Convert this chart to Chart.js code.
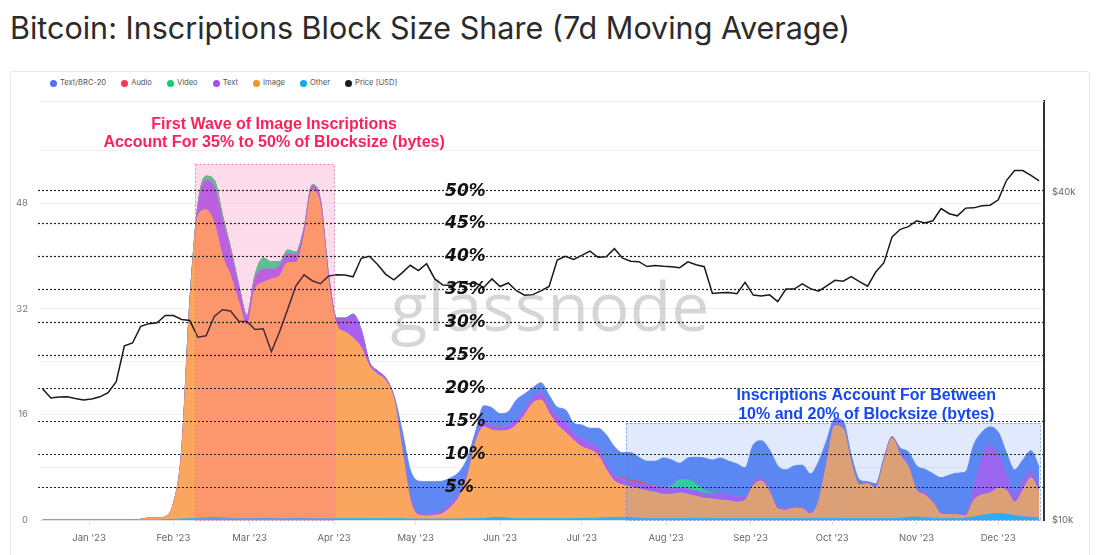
<!DOCTYPE html>
<html>
<head>
<meta charset="utf-8">
<script src="https://cdn.jsdelivr.net/npm/chart.js@4.4.1/dist/chart.umd.min.js"></script>
<style>
  html, body { margin: 0; padding: 0; background: #fff; }
  body { width: 1100px; height: 555px; position: relative; overflow: hidden; font-family: Inter, "Noto Sans", sans-serif; }
  #title { position: absolute; left: 10px; top: 11px; font-size: 30.5px; line-height: 34px; color: #2b2b2b; white-space: nowrap; }
  #card { position: absolute; left: 10px; top: 71px; width: 1078px; height: 520px; border: 1px solid #e8e8e8; border-radius: 3px; }
  #legend { position: absolute; left: 50px; top: 76px; display: flex; font-size: 7.6px; color: #555; line-height: 14px; }
  .item { display: flex; align-items: center; margin-right: 15px; }
  .dot { width: 7px; height: 7px; border-radius: 50%; margin-right: 3px; }
  #wrap { position: absolute; left: 0; top: 0; width: 1100px; height: 555px; }
</style>
</head>
<body>
<div id="title">Bitcoin: Inscriptions Block Size Share (7d Moving Average)</div>
<div id="card"></div>
<div id="legend"></div>
<div id="wrap"><canvas id="chart"></canvas></div>
<script>
// days since 1 Jan 2023, one point every 3 days
const days = [
  -17, -14, -11, -8, -5, -2, 1, 4, 7, 10, 13, 16,
  19, 22, 25, 28, 31, 34, 37, 40, 43, 46, 49, 52,
  55, 58, 61, 64, 67, 70, 73, 76, 79, 82, 85, 88,
  91, 94, 97, 100, 103, 106, 109, 112, 115, 118, 121, 124,
  127, 130, 133, 136, 139, 142, 145, 148, 151, 154, 157, 160,
  163, 166, 169, 172, 175, 178, 181, 184, 187, 190, 193, 196,
  199, 202, 205, 208, 211, 214, 217, 220, 223, 226, 229, 232,
  235, 238, 241, 244, 247, 250, 253, 256, 259, 262, 265, 268,
  271, 274, 277, 280, 283, 286, 289, 292, 295, 298, 301, 304,
  307, 310, 313, 316, 319, 322, 325, 328, 331, 334, 337, 340,
  343, 346, 349
];

const other = [
  0, 0, 0, 0, 0, 0, 0, 0, 0, 0, 0, 0,
  0, 0, 0, 0.05, 0.1, 0.15, 0.2, 0.25, 0.35, 0.4, 0.35, 0.25,
  0.2, 0.2, 0.2, 0.25, 0.25, 0.2, 0.2, 0.25, 0.25, 0.2, 0.2, 0.2,
  0.2, 0.2, 0.2, 0.2, 0.2, 0.2, 0.2, 0.2, 0.2, 0.15, 0.15, 0.15,
  0.15, 0.15, 0.15, 0.15, 0.2, 0.2, 0.25, 0.35, 0.4, 0.3, 0.2, 0.2,
  0.2, 0.2, 0.2, 0.2, 0.2, 0.2, 0.25, 0.25, 0.3, 0.35, 0.4, 0.4,
  0.35, 0.25, 0.2, 0.2, 0.2, 0.2, 0.2, 0.2, 0.25, 0.25, 0.2, 0.2,
  0.2, 0.2, 0.2, 0.2, 0.2, 0.2, 0.2, 0.2, 0.2, 0.2, 0.2, 0.2,
  0.25, 0.25, 0.2, 0.2, 0.2, 0.2, 0.2, 0.2, 0.2, 0.25, 0.4, 0.45,
  0.35, 0.25, 0.2, 0.2, 0.2, 0.3, 0.45, 0.7, 0.9, 1.0, 0.9, 0.7,
  0.5, 0.4, 0.3
];

const image = [
  0, 0, 0, 0, 0, 0, 0, 0, 0, 0, 0, 0,
  0.1, 0.3, 0.3, 0.45, 2.4, 9.85, 31.8, 45.75, 46.65, 44.6, 39.65, 36.75,
  32.8, 29.3, 34.8, 35.75, 36.25, 36.8, 38.8, 38.75, 42.75, 49.8, 47.3, 35.8,
  29.3, 28.3, 27.4, 25.9, 23.1, 21.9, 20.9, 18.0, 10.4, 2.85, 0.6, 0.45,
  0.55, 0.85, 1.85, 3.35, 6.3, 11.5, 13.85, 13.25, 13.1, 13.3, 14.2, 15.7,
  17.5, 18.0, 16.0, 14.2, 13.1, 11.9, 10.85, 10.35, 9.5, 7.25, 5.5, 4.9,
  4.65, 4.45, 4.2, 4.0, 3.7, 3.7, 3.9, 3.7, 3.35, 3.05, 3.0, 2.8,
  2.7, 2.5, 2.8, 5.0, 5.7, 4.0, 1.5, 1.3, 1.6, 1.5, 0.7, 2.6,
  8.35, 14.05, 13.6, 8.4, 5.1, 5.3, 4.6, 8.6, 12.2, 9.55, 7.6, 4.05,
  3.45, 2.35, 0.7, 0.6, 0.6, 0.3, 2.55, 3.1, 3.2, 3.8, 3.6, 2.0,
  4.0, 6.0, 3.9
];

const text = [
  0, 0, 0, 0, 0, 0, 0, 0, 0, 0, 0, 0,
  0, 0, 0, 0, 0, 0.3, 0.8, 1.2, 4.5, 5.5, 5.5, 3.7,
  2.3, 1.3, 1.6, 2.0, 1.5, 1.5, 1.4, 1.2, 1.0, 0.6, 0.8, 1.0,
  1.0, 2.0, 3.5, 2.6, 0.6, 0.5, 0.4, 0.3, 0.5, 0.5, 0.3, 0.2,
  0.3, 0.4, 0.5, 0.6, 0.6, 0.5, 0.6, 0.6, 0.6, 0.7, 0.8, 0.8,
  0.8, 1.0, 1.2, 1.2, 1.5, 1.0, 1.2, 1.0, 1.0, 0.8, 0.8, 0.8,
  0.8, 0.8, 0.9, 0.9, 1.0, 1.0, 0.8, 0.8, 0.8, 0.8, 0.8, 1.0,
  0.9, 0.8, 0.5, 0.5, 0.5, 0.4, 0.3, 0.3, 0.3, 0.3, 0.2, 0.3,
  0.4, 0.3, 0.3, 0.3, 0.3, 0.2, 0.3, 0.3, 0.2, 0.3, 0.3, 0.3,
  0.4, 0.3, 0.2, 0.2, 0.2, 0.2, 1.8, 5.6, 7.3, 5.0, 2.3, 1.2,
  1.4, 1.0, 0.8
];

const video = [
  0, 0, 0, 0, 0, 0, 0, 0, 0, 0, 0, 0,
  0, 0, 0, 0, 0, 0, 0, 0.5, 0.6, 1.0, 0.7, 0.5,
  0.3, 0.2, 0.5, 1.7, 1.1, 0.6, 0.5, 0.4, 0.2, 0.2, 0.2, 0.1,
  0.1, 0.1, 0.1, 0.1, 0, 0, 0, 0, 0, 0, 0, 0,
  0, 0, 0, 0, 0, 0, 0, 0, 0, 0, 0, 0,
  0, 0, 0, 0, 0, 0, 0, 0, 0, 0, 0, 0,
  0, 0, 0, 0, 0, 0.3, 1.2, 1.4, 1.0, 0.4, 0.1, 0,
  0, 0, 0, 0, 0, 0, 0, 0, 0, 0, 0, 0,
  0, 0, 0, 0, 0, 0, 0, 0, 0, 0, 0, 0,
  0, 0, 0, 0, 0, 0, 0, 0, 0, 0, 0, 0,
  0, 0, 0
];

const audio = [
  0, 0, 0, 0, 0, 0, 0, 0, 0, 0, 0, 0,
  0, 0, 0, 0, 0, 0, 0, 0, 0, 0, 0, 0,
  0, 0, 0, 0, 0, 0, 0, 0, 0, 0, 0, 0,
  0, 0, 0, 0, 0, 0, 0, 0, 0, 0, 0, 0,
  0, 0, 0, 0, 0, 0, 0, 0, 0, 0, 0, 0,
  0, 0, 0, 0, 0, 0, 0, 0, 0, 0, 0, 0.2,
  0.3, 0.3, 0.2, 0, 0, 0, 0, 0, 0, 0, 0, 0,
  0, 0, 0, 0, 0, 0, 0, 0, 0, 0, 0, 0,
  0, 0, 0, 0, 0, 0, 0, 0, 0, 0, 0, 0,
  0, 0, 0, 0, 0, 0, 0, 0, 0, 0, 0, 0,
  0, 0, 0
];

const brc20 = [
  0, 0, 0, 0, 0, 0, 0, 0, 0, 0, 0, 0,
  0, 0, 0, 0, 0, 0, 0, 0, 0, 0, 0, 0,
  0, 0, 0, 0, 0, 0, 0, 0, 0, 0, 0, 0,
  0, 0, 0, 0, 0, 0, 0, 0.4, 2.5, 4.1, 4.85, 5.0,
  4.8, 4.5, 3.9, 3.2, 2.3, 1.2, 2.6, 2.8, 2.0, 2.1, 3.0, 2.4,
  1.5, 1.6, 1.5, 1.5, 1.9, 1.6, 2.1, 2.3, 3.1, 4.5, 4.4, 3.9,
  4.1, 3.7, 3.4, 3.8, 4.5, 3.9, 2.5, 3.3, 4.1, 4.9, 5.0, 5.4,
  5.1, 5.0, 4.4, 5.7, 5.6, 6.0, 6.2, 5.8, 6.1, 6.3, 5.9, 5.7,
  3.1, 0.8, 0.9, 0.9, 0.5, 0.1, 0.4, 0.3, 0.0, 0.8, 2.0, 3.4,
  3.5, 4.1, 5.3, 5.8, 6.1, 6.5, 6.6, 3.9, 2.7, 3.5, 3.4, 3.7,
  3.2, 3.1, 3.0
];

const price = [
  17400, 16750, 16820, 16840, 16710, 16600, 16680, 16830, 17120, 17940, 20880, 21130,
  22670, 22930, 23010, 23740, 23730, 23330, 23240, 21650, 21780, 23640, 24320, 24190,
  23170, 23150, 22360, 22430, 20360, 22160, 24380, 26910, 28180, 27490, 27140, 28040,
  28190, 28170, 27950, 30220, 30480, 29430, 28240, 27590, 28420, 29340, 28680, 29530,
  27700, 26990, 26930, 27400, 27110, 27220, 26720, 27700, 26820, 27230, 26350, 25850,
  25920, 26330, 26840, 29990, 30480, 30080, 30590, 31150, 30350, 30410, 31470, 30240,
  29860, 29790, 29180, 29320, 29230, 29170, 29050, 29770, 29410, 29170, 26050, 26120,
  26160, 26010, 27300, 25870, 25780, 25900, 25160, 26530, 26530, 27130, 26580, 26300,
  26910, 27530, 27430, 27970, 27390, 26860, 28520, 29670, 33090, 34160, 34540, 35420,
  35070, 35420, 37300, 36490, 36160, 37360, 37400, 37720, 37820, 38690, 41980, 43780,
  43780, 42890, 41930
];

const monthDays = [0, 31, 59, 90, 120, 151, 181, 212, 243, 273, 304, 334];
const monthLabels = ["Jan '23", "Feb '23", "Mar '23", "Apr '23", "May '23", "Jun '23",
  "Jul '23", "Aug '23", "Sep '23", "Oct '23", "Nov '23", "Dec '23"];
const leftTicks = [0, 8, 16, 24, 32, 40, 48, 56];
const priceTicks = [10000, 40000];
const pctLevels = [5, 10, 15, 20, 25, 30, 35, 40, 45, 50];

// annotation ranges (x in days, y in share units)
const waveBox = { from: 39, to: 90, top: 53.9 };
const rangeBox = { from: 197.3, to: 349.4, top: 14.7 };
const waveNote = ['First Wave of Image Inscriptions', 'Account For 35% to 50% of Blocksize (bytes)'];
const rangeNote = ['Inscriptions Account For Between', '10% and 20% of Blocksize (bytes)'];

const legendNames = ['Text/BRC-20', 'Audio', 'Video', 'Text', 'Image', 'Other', 'Price [USD]'];
const legendColors = ['#4c74f5', '#f23a56', '#12cf66', '#a44ff0', '#f5902a', '#12aaf0', '#1a1a1a'];

//Legende als HTML
const legendEl = document.getElementById('legend');
legendNames.forEach((name, i) => {
  const item = document.createElement('div');
  item.className = 'item';
  item.innerHTML = `<span class="dot" style="background:${legendColors[i]}"></span>${name}`;
  legendEl.appendChild(item);
});

function series(values) {
  return days.map((d, i) => ({ x: d, y: values[i] }));
}

function area(label, values, color, fill) {
  return {
    label: label,
    data: series(values),
    yAxisID: 'y',
    backgroundColor: color,
    borderColor: color,
    borderWidth: 1,
    pointRadius: 0,
    fill: fill,
    tension: 0.4,
    cubicInterpolationMode: 'monotone'
  };
}

function drawBox(ctx, x1, y1, x2, y2, fill, stroke) {
  ctx.fillStyle = fill;
  ctx.fillRect(x1, y1, x2 - x1, y2 - y1);
  ctx.setLineDash([2, 2]);
  ctx.strokeStyle = stroke;
  ctx.lineWidth = 1;
  ctx.strokeRect(Math.round(x1) + 0.5, Math.round(y1) + 0.5, Math.round(x2 - x1), Math.round(y2 - y1));
  ctx.setLineDash([]);
}

const overlay = {
  id: 'overlay',
  beforeDatasetsDraw(chart) {
    const { ctx, chartArea: a } = chart;
    ctx.save();
    ctx.strokeStyle = '#ececec';
    ctx.lineWidth = 1;
    ctx.beginPath();
    ctx.moveTo(a.left, a.top + 0.5);
    ctx.lineTo(a.right, a.top + 0.5);
    ctx.stroke();
    // watermark
    ctx.font = '400 68px "Open Sans"';
    ctx.fillStyle = 'rgba(0,0,0,0.16)';
    ctx.textAlign = 'center';
    ctx.textBaseline = 'alphabetic';
    ctx.fillText('glassnode', 550, 331);
    ctx.restore();
  },
  afterDatasetsDraw(chart) {
    const { ctx, chartArea: a, scales: { x, y } } = chart;
    ctx.save();
    drawBox(ctx, x.getPixelForValue(waveBox.from), y.getPixelForValue(waveBox.top),
      x.getPixelForValue(waveBox.to), y.getPixelForValue(0),
      'rgba(250,95,165,0.22)', 'rgba(240,110,170,0.85)');
    drawBox(ctx, x.getPixelForValue(rangeBox.from), y.getPixelForValue(rangeBox.top),
      x.getPixelForValue(rangeBox.to), y.getPixelForValue(0),
      'rgba(70,130,240,0.17)', 'rgba(90,140,240,0.8)');

    // gepunktete Linien
    ctx.setLineDash([2, 2]);
    ctx.strokeStyle = '#222';
    ctx.lineWidth = 1.2;
    pctLevels.forEach(v => {
      const py = Math.round(y.getPixelForValue(v)) + 0.5;
      ctx.beginPath();
      ctx.moveTo(a.left - 2, py);
      ctx.lineTo(a.right, py);
      ctx.stroke();
    });
    ctx.setLineDash([]);

    ctx.font = 'italic bold 17px "DejaVu Sans"';
    ctx.fillStyle = '#111';
    ctx.textAlign = 'left';
    ctx.textBaseline = 'middle';
    pctLevels.forEach(v => {
      ctx.fillText(v + '%', x.getPixelForValue(130.8), y.getPixelForValue(v) + 1);
    });

    ctx.font = 'bold 16px "Liberation Sans"';
    ctx.textAlign = 'center';
    ctx.fillStyle = '#ff1f5a';
    ctx.fillText(waveNote[0], x.getPixelForValue(68), y.getPixelForValue(59.85));
    ctx.fillText(waveNote[1], x.getPixelForValue(68), y.getPixelForValue(57.15));
    ctx.fillStyle = '#1448f0';
    ctx.fillText(rangeNote[0], x.getPixelForValue(285.5), y.getPixelForValue(18.8));
    ctx.fillText(rangeNote[1], x.getPixelForValue(285.5), y.getPixelForValue(16.0));
    ctx.restore();
  }
};

Chart.defaults.font.family = 'Inter, "Noto Sans", sans-serif';

const ctx = document.getElementById('chart').getContext('2d');
const chart = new Chart(ctx, {
  type: 'line',
  data: {
    datasets: [
      area('Other', other, '#2ab4f2', 'origin'),
      area('Image', image, '#fba65e', '-1'),
      area('Text', text, '#ab5ff2', '-1'),
      area('Video', video, '#2edc8e', '-1'),
      area('Audio', audio, '#f5455f', '-1'),
      area('Text/BRC-20', brc20, '#5f88f5', '-1'),
      {
        label: 'Price [USD]',
        data: series(price),
        yAxisID: 'y1',
        borderColor: '#1a1a1a',
        borderWidth: 1.5,
        pointRadius: 0,
        fill: false,
        tension: 0,
        order: -1
      }
    ]
  },
  options: {
    responsive: true,
    maintainAspectRatio: false,
    animation: false,
    events: [],
    layout: { padding: { top: 101, left: 0, right: 0, bottom: 0 } },
    plugins: { legend: { display: false }, tooltip: { enabled: false } },
    scales: {
      x: {
        type: 'linear',
        min: -18,
        max: 350.8,
        afterBuildTicks: s => { s.ticks = monthDays.map(v => ({ value: v })); },
        afterFit: s => { s.height = 35; },
        grid: { drawOnChartArea: false, drawTicks: true, tickLength: 5, color: '#e3e3e3' },
        border: { display: true, color: '#e3e3e3' },
        ticks: {
          autoSkip: false,
          maxRotation: 0,
          padding: 7,
          color: '#666',
          font: { size: 9.5 },
          callback: (v, i) => monthLabels[i]
        }
      },
      y: {
        position: 'left',
        stacked: true,
        min: 0,
        max: 63.5,
        afterBuildTicks: s => { s.ticks = leftTicks.map(v => ({ value: v })); },
        afterFit: s => { s.width = 40; },
        grid: { color: '#f1f1f1', drawTicks: false },
        border: { display: false },
        ticks: {
          padding: 12,
          color: '#777',
          font: { size: 9.5 },
          callback: v => (v % 16 === 0 ? v : '')
        }
      },
      y1: {
        type: 'logarithmic',
        position: 'right',
        stacked: false,
        min: 10000,
        max: 58750,
        afterBuildTicks: s => { s.ticks = priceTicks.map(v => ({ value: v })); },
        afterFit: s => { s.width = 56; },
        grid: { display: false, drawTicks: false },
        border: { display: true, color: '#333', width: 2 },
        ticks: {
          padding: 8,
          color: '#666',
          font: { size: 9.5 },
          callback: v => '$' + (v / 1000) + 'k'
        }
      }
    }
  },
  plugins: [overlay]
});
</script>
</body>
</html>
